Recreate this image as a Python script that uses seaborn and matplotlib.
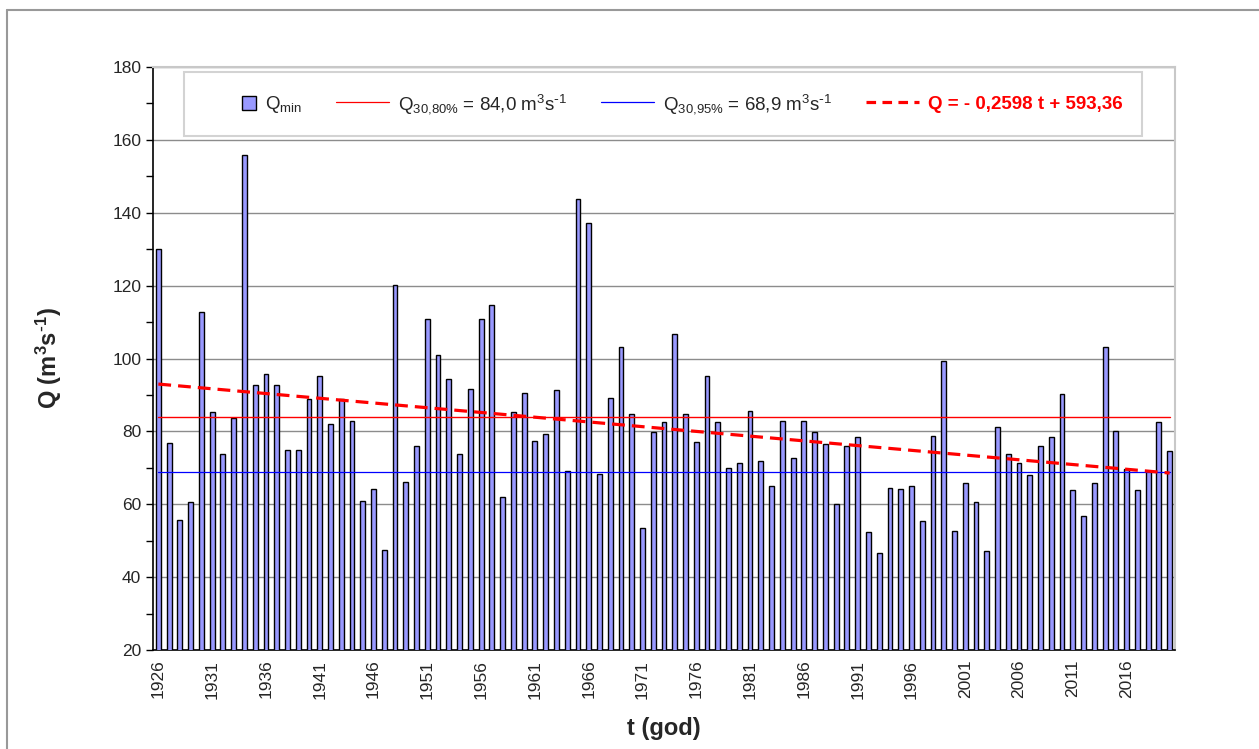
import matplotlib
matplotlib.use("Agg")
import matplotlib.pyplot as plt
import numpy as np
import pandas as pd
import seaborn as sns
from matplotlib.legend_handler import HandlerPatch
from matplotlib.lines import Line2D
from matplotlib.patches import Patch, Rectangle

# ── data ──────────────────────────────────────────────
years = list(range(1926, 2021))
q_min = [
    130.0, 76.8, 55.8, 60.7, 112.8, 85.4, 73.9, 83.6, 155.8, 92.6,   # 1926-1935
    95.8, 92.6, 74.9, 74.9, 88.8, 95.1, 81.9, 88.8, 82.9, 61.0,      # 1936-1945
    64.1, 47.5, 120.1, 66.2, 75.9, 110.9, 100.9, 94.4, 73.9, 91.7,   # 1946-1955
    110.9, 114.8, 62.1, 85.4, 90.4, 77.4, 79.2, 91.3, 69.1, 143.9,   # 1956-1965
    137.1, 68.4, 89.2, 103.1, 84.9, 53.5, 79.8, 82.6, 106.8, 84.9,   # 1966-1975
    77.0, 95.1, 82.6, 69.9, 71.4, 85.7, 71.8, 65.0, 82.9, 72.7,      # 1976-1985
    82.9, 79.8, 76.6, 60.0, 75.9, 78.4, 52.3, 46.5, 64.5, 64.1,      # 1986-1995
    65.0, 55.5, 78.7, 99.2, 52.7, 65.9, 60.7, 47.2, 81.2, 73.9,      # 1996-2005
    71.4, 68.0, 75.9, 78.4, 90.2, 63.8, 56.9, 65.9, 103.1, 80.1,     # 2006-2015
    69.7, 63.8, 69.1, 82.6, 74.6,                                    # 2016-2020
]
q30_80 = 84.0
q30_95 = 68.9
trend_slope = -0.2598
trend_icpt = 593.36

df = pd.DataFrame({"year": years, "q": q_min})

# ── style ─────────────────────────────────────────────
sns.set_style("white")
plt.rcParams["font.family"] = ["Liberation Sans", "DejaVu Sans"]
plt.rcParams["mathtext.default"] = "regular"

BAR_COLOR = "#9999FF"
GRID_GRAY = "#8c8c8c"


def square_handle(legend, orig_handle, xdescent, ydescent, width, height, fontsize):
    # small square pushed to the right end of the handle box (Excel style)
    s = 10.5
    return Rectangle((-xdescent + width - s, -ydescent + (height - s) / 2), s, s)


fig = plt.figure(figsize=(12.59, 7.49), dpi=100)
ax = fig.add_axes([0.1215, 0.1322, 0.8118, 0.7783])

sns.barplot(data=df, x="year", y="q", color=BAR_COLOR, saturation=1,
            width=0.45, edgecolor="black", linewidth=1.0, ax=ax, zorder=3)

xpos = np.arange(len(years))
ax.plot(xpos, [q30_80] * len(xpos), color="red", lw=1.0, zorder=4)
ax.plot(xpos, [q30_95] * len(xpos), color="blue", lw=0.9, zorder=4)
trend = trend_slope * np.array(years) + trend_icpt
ax.plot(xpos, trend, color="red", lw=2.3, ls=(0, (4, 2.2)), zorder=5)

# axes
ax.set_xlim(-0.5, len(years) - 0.5)
ax.set_ylim(20, 180)
ax.set_yticks(np.arange(20, 181, 20))
ax.set_yticks(np.arange(30, 180, 20), minor=True)
ax.yaxis.grid(True, which="major", color=GRID_GRAY, lw=1.0, zorder=0)
ax.set_axisbelow(True)

lab_pos = [i for i, y in enumerate(years) if (y - 1926) % 5 == 0]
ax.set_xticks(lab_pos)
ax.set_xticklabels([str(years[i]) for i in lab_pos], rotation=90, fontsize=12.5)
ax.set_xticks(np.arange(-0.5, len(years), 1.0), minor=True)
ax.tick_params(axis="x", which="major", length=0, pad=7)
ax.tick_params(axis="x", which="minor", length=5, width=1, color="black", direction="out")
ax.tick_params(axis="y", which="both", length=5, width=1, color="black",
               direction="out", labelsize=12.5, left=True)

for side in ["left", "bottom"]:
    ax.spines[side].set_color("black")
    ax.spines[side].set_linewidth(1.2)
for side in ["top", "right"]:
    ax.spines[side].set_color("#c8c8c8")
    ax.spines[side].set_linewidth(1.5)

ax.set_xlabel("t (god)", fontsize=17, fontweight="bold", labelpad=13)
ax.set_ylabel(r"Q (m$^3$s$^{\text{-}1}$)", fontsize=17, fontweight="bold", labelpad=35)

# legend
bar_handle = Patch(facecolor=BAR_COLOR, edgecolor="black", linewidth=1.0)
handles = [
    bar_handle,
    Line2D([], [], color="red", lw=0.9),
    Line2D([], [], color="blue", lw=0.9),
    Line2D([], [], color="red", lw=2.3, ls=(0, (3, 2))),
]
labels = [
    "Q$_{min}$",
    r"Q$_{30{,}80\%}$ = 84,0 m$^3$s$^{\text{-}1}$",
    r"Q$_{30{,}95\%}$ = 68,9 m$^3$s$^{\text{-}1}$",
    "Q = - 0,2598 t + 593,36",
]
leg = ax.legend(handles, labels, ncol=4, loc="upper left",
                bbox_to_anchor=(0.0303, 0.991, 0.9377, 0.0), mode="expand",
                borderaxespad=0.0,
                handler_map={bar_handle: HandlerPatch(patch_func=square_handle)},
                frameon=True, fancybox=False, edgecolor="#c8c8c8",
                fontsize=13.5, handlelength=2.8, handleheight=0.9,
                borderpad=1.05, handletextpad=0.5, columnspacing=1.5)
leg.get_frame().set_linewidth(1.5)
leg.set_zorder(10)
leg.get_texts()[3].set_color("red")
leg.get_texts()[3].set_fontweight("bold")

# outer chart border
fig.add_artist(Line2D([0.0056, 1.0], [1 - 10 / 749, 1 - 10 / 749],
                      color="#999999", lw=1.5, transform=fig.transFigure))
fig.add_artist(Line2D([0.0056, 0.0056], [0.0, 1 - 10 / 749],
                      color="#999999", lw=1.5, transform=fig.transFigure))

fig.savefig("out.png", dpi=100)
